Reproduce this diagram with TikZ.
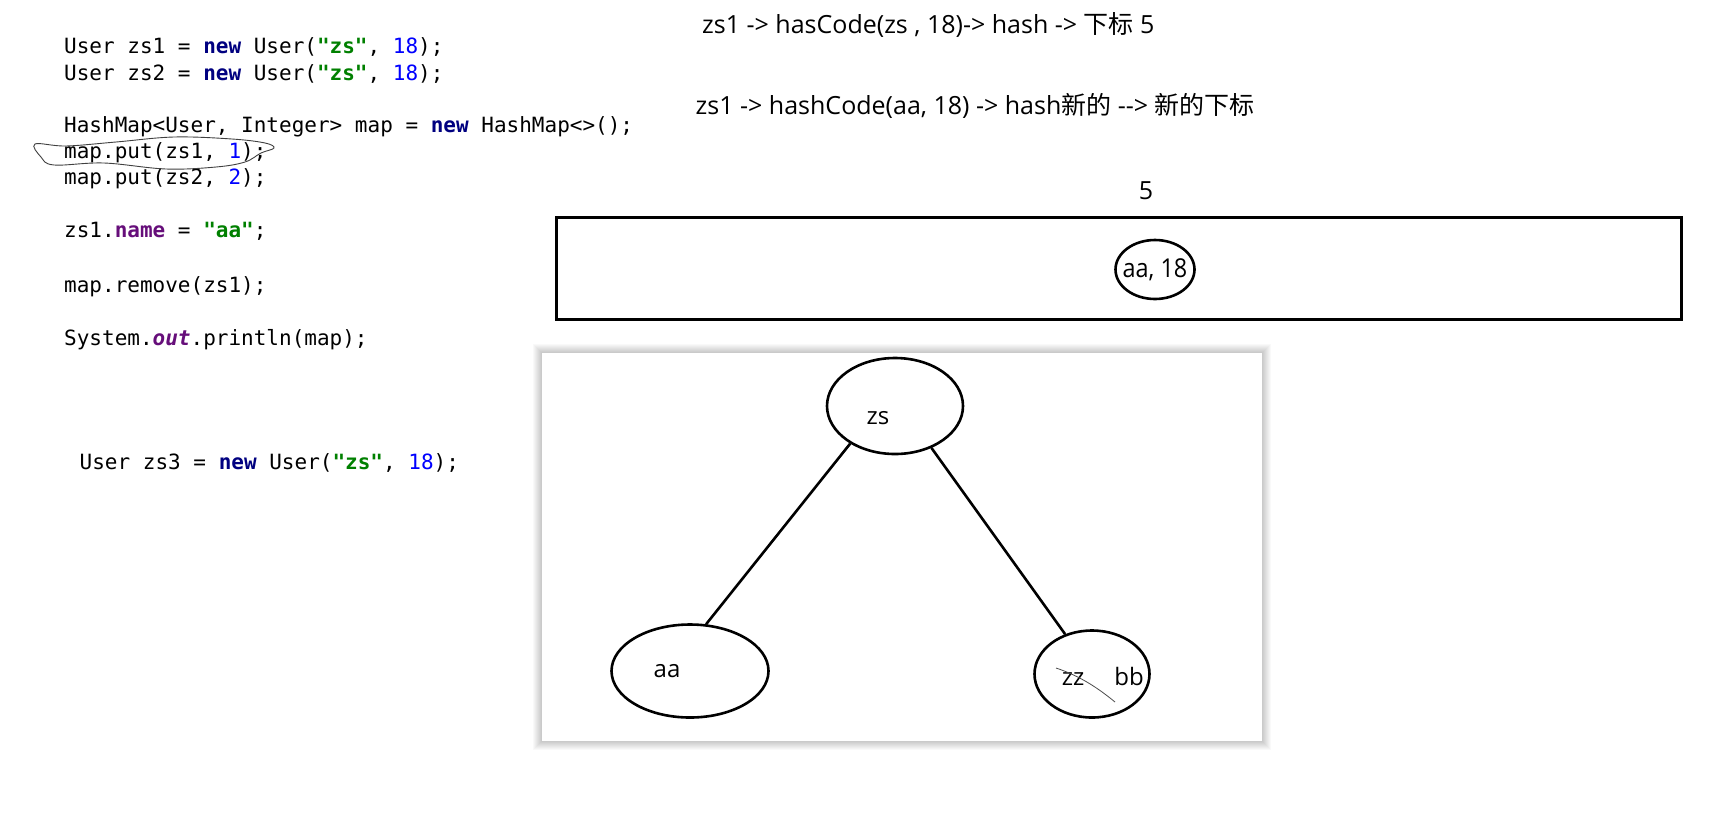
\documentclass[tikz,border=0pt]{standalone}
\usepackage{fontspec}
\usetikzlibrary{shapes.geometric}
\newfontfamily\codefont[Ligatures=TeXOff]{DejaVu Sans Mono}
\newfontfamily\uifont[Ligatures=TeXOff]{Open Sans}
\newfontfamily\narrowui[Ligatures=TeXOff,FakeStretch=0.9]{Open Sans}
\newfontfamily\cjkfont{Noto Sans CJK SC}
\definecolor{kwcol}{HTML}{000080}
\definecolor{strcol}{HTML}{008000}
\definecolor{numcol}{HTML}{0000FF}
\definecolor{fldcol}{HTML}{660E7A}
\newcommand\kwd[1]{{\color{kwcol}\bfseries #1}}
\newcommand\strl[1]{{\color{strcol}\bfseries #1}}
\newcommand\numl[1]{{\color{numcol}#1}}
\newcommand\zh[1]{{\cjkfont #1}}
\begin{document}
\begin{tikzpicture}[x=1pt,y=-1pt,
  codeline/.style={anchor=base west, inner sep=0pt, font=\codefont\fontsize{21}{27}\selectfont},
  uitext/.style={inner sep=0pt, font=\uifont\fontsize{24}{28}\selectfont},
  notetext/.style={inner sep=0pt, anchor=base west, font=\uifont\fontsize{25}{29}\selectfont},
  oval/.style={draw, ellipse, line width=2.6pt, inner sep=0pt},
  edge/.style={line width=2.6pt},
  scribble/.style={draw=black!75, line width=0.9pt}]
\useasboundingbox (0,0) rectangle (1731,815);
\fill[white] (0,0) rectangle (1731,815);

% code
\node[codeline] (c1) at (64,53.5) {User zs1 = \kwd{new} User(\strl{"zs"}, \numl{18});};
\node[codeline] (c2) at (64,80) {User zs2 = \kwd{new} User(\strl{"zs"}, \numl{18});};
\node[codeline] (c3) at (64,132) {HashMap<User, Integer> map = \kwd{new} HashMap<>();};
\node[codeline] (c4) at (64,158.5) {map.put(zs1, \numl{1});};
\node[codeline] (c5) at (64,184.5) {map.put(zs2, \numl{2});};
\node[codeline] (c6) at (64,237.5) {zs1.{\color{fldcol}\bfseries name} = \strl{"aa"};};
\node[codeline] (c7) at (64,292) {map.remove(zs1);};
\node[codeline] (c8) at (64,345) {System.{\color{fldcol}\bfseries\itshape out}.println(map);};
\node[codeline] (c9) at (79.5,469) {User zs3 = \kwd{new} User(\strl{"zs"}, \numl{18});};

% scribble loop around map.put(zs1, 1);
\draw[scribble] plot[smooth cycle, tension=0.6] coordinates
  {(35,144) (66,146) (116,142) (174,137) (232,139) (265,143) (274,148) (261,153) (245,162) (216,167) (166,169) (104,163) (54,165) (41,157)};

% top notes
\node[notetext] (t1) at (702,33) {zs1 -> hasCode(zs , 18)-> hash -> \zh{下标} 5};
\node[notetext] (t2) at (695.5,114) {zs1 -> hashCode(aa, 18) -> hash\zh{新的} -{}-> \zh{新的下标}};

% bucket
\node[uitext, anchor=base, font=\uifont\fontsize{25}{28}\selectfont] (five) at (1146,199) {5};
\node[draw, line width=3pt, minimum width=1125pt, minimum height=101.5pt, inner sep=0pt] (bucket) at (1119,268.3) {};
\node[oval, minimum width=79pt, minimum height=59pt] (entry) at (1155,269.5) {};
\node[inner sep=0pt, font=\narrowui\fontsize{26}{28}\selectfont] (entrytxt) at (1155,269.5) {aa, 18};

% panel with soft shadow
\foreach \i in {9,8,7,6,5,4,3,2,1} {
  \fill[black, opacity=0.022] (542-\i,353-\i) rectangle (1262+\i,741+\i);
}
\fill[white] (542,353) rectangle (1262,741);

% tree
\node[oval, minimum width=136pt, minimum height=96pt] (zs) at (895,406) {};
\node[oval, minimum width=157pt, minimum height=93pt] (aa) at (690,671) {};
\node[oval, minimum width=115pt, minimum height=87pt] (zzbb) at (1092,674) {};
\node[uitext] (zstxt) at (878,418) {zs};
\node[uitext] (aatxt) at (667,671) {aa};
\node[uitext] (zztxt) at (1073,679) {zz};
\node[uitext] (bbtxt) at (1129,676) {bb};
\draw[edge] (zs.220) -- (aa.71);
\draw[edge] (zs.311) -- (zzbb.124);
\coordinate (s1) at (1056,668);
\coordinate (s2) at (1115,702);
\draw[draw=black!70, line width=0.8pt] (s1) .. controls (1080,676) and (1098,688) .. (s2);
\end{tikzpicture}
\end{document}
